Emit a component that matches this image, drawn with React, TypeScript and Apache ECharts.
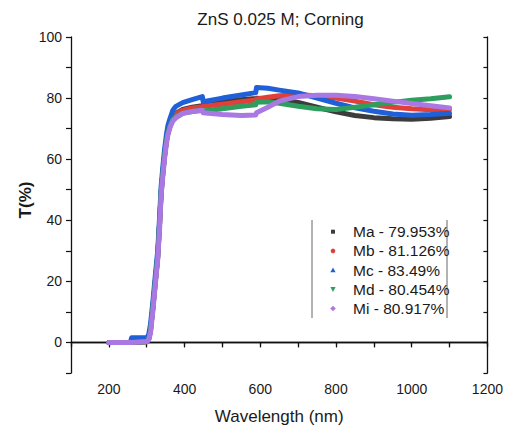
import React, { useEffect, useRef } from "react";
import * as echarts from "echarts";

const wavelengths = [200, 250, 257, 260, 300, 305, 310, 316, 322, 329, 334, 338, 343, 347, 352, 356, 362, 369, 377, 395, 420, 447, 449, 500, 550, 588, 590, 620, 650, 700, 750, 800, 850, 900, 950, 1000, 1050, 1100];

const maValues = [0, 0, 0, 0, 0.2, 1, 4, 11, 19, 28, 39, 49, 56, 61, 66, 68.6, 71.5, 73.5, 75, 76.3, 77, 77.5, 77.8, 78.8, 79.5, 79.9, 79.95, 79.8, 79.4, 78.6, 77, 75.5, 74.3, 73.6, 73.2, 73.1, 73.4, 74];
const mbValues = [0, 0, 0, 0, 0.2, 1, 4, 11, 19, 28, 39, 49, 56, 61, 66, 68.6, 71.5, 73.3, 74.8, 76, 76.8, 77.2, 77.3, 78, 78.8, 79.4, 79.7, 80.3, 80.8, 81.1, 80.8, 80, 79, 77.8, 77, 76.5, 76.2, 76.3];
const mcValues = [0, 0, 0, 1.5, 1.5, 2.5, 6, 13, 21, 30, 41, 51, 58, 63, 68, 71, 73.5, 76, 77.3, 78.5, 79.5, 80.5, 78.8, 80, 81, 81.8, 83.49, 83.2, 82.6, 81.7, 80, 78.3, 76.8, 75.7, 74.8, 74.4, 74.6, 75];
const mdValues = [0, 0, 0, 0, 0.2, 1, 4, 11, 19, 28, 39, 49, 56, 61, 66, 68.5, 71, 73, 74, 75, 75.6, 76, 75.8, 76.5, 77.3, 77.8, 78.6, 78.8, 78.3, 77.3, 76.5, 76.3, 77, 77.8, 78.6, 79.3, 79.8, 80.45];
const miValues = [0, 0, 0, 0, 0.3, 0.8, 3, 10, 18, 27, 37, 48, 55, 60, 65, 68, 70.5, 72.5, 73.5, 75, 75.6, 76, 75.2, 74.6, 74.3, 74.5, 75.2, 77, 79, 80.5, 80.9, 80.9, 80.5, 79.8, 79, 78.2, 77.5, 76.8];

const seriesNames = ["Ma - 79.953%", "Mb - 81.126%", "Mc - 83.49%", "Md - 80.454%", "Mi - 80.917%"];
const seriesColors = ["#3c3c3c", "#e0403a", "#1f5fd8", "#2e9e5e", "#aa78e2"];
const seriesValues = [maValues, mbValues, mcValues, mdValues, miValues];

const FONT = "'Liberation Sans', Arial, sans-serif";

export default function App() {
  const ref = useRef<HTMLDivElement>(null);
  useEffect(() => {
    if (!ref.current) return;
    const chart = echarts.init(ref.current, undefined, { renderer: "svg" });

    const series = seriesValues.map((vals, i) => ({
      name: seriesNames[i],
      type: "line",
      xAxisIndex: 0,
      yAxisIndex: 0,
      data: wavelengths.map((w, j) => [w, vals[j]]),
      showSymbol: false,
      symbol: "none",
      lineStyle: { color: seriesColors[i], width: 5, cap: "round", join: "round" },
      itemStyle: { color: seriesColors[i] },
      z: 2 + i,
    }));

    const legX = 333;
    const legTextX = 353;
    const rowY = [231.7, 250.9, 270.1, 289.3, 308.5];
    const legendGraphics: any[] = [
      { type: "line", shape: { x1: 312, y1: 220, x2: 312, y2: 318 }, style: { stroke: "#666", lineWidth: 1 } },
      { type: "line", shape: { x1: 447, y1: 220, x2: 447, y2: 318 }, style: { stroke: "#666", lineWidth: 1 } },
      { type: "rect", shape: { x: legX - 2, y: rowY[0] - 2, width: 4, height: 4 }, style: { fill: seriesColors[0] } },
      { type: "circle", shape: { cx: legX, cy: rowY[1], r: 2.3 }, style: { fill: seriesColors[1] } },
      { type: "polygon", shape: { points: [[legX, rowY[2] - 2.6], [legX - 2.6, rowY[2] + 2.2], [legX + 2.6, rowY[2] + 2.2]] }, style: { fill: seriesColors[2] } },
      { type: "polygon", shape: { points: [[legX, rowY[3] + 2.6], [legX - 2.6, rowY[3] - 2.2], [legX + 2.6, rowY[3] - 2.2]] }, style: { fill: seriesColors[3] } },
      { type: "polygon", shape: { points: [[legX, rowY[4] - 2.8], [legX + 2.8, rowY[4]], [legX, rowY[4] + 2.8], [legX - 2.8, rowY[4]]] }, style: { fill: seriesColors[4] } },
      ...seriesNames.map((n, i) => ({
        type: "text",
        x: legTextX,
        y: rowY[i],
        style: { text: n, font: `15.5px ${FONT}`, fill: "#1a1a1a", textAlign: "left", textVerticalAlign: "middle" },
      })),
      {
        type: "text",
        x: 280.5,
        y: 19.5,
        style: { text: "ZnS 0.025 M; Corning", font: `17px ${FONT}`, fill: "#1a1a1a", textAlign: "center", textVerticalAlign: "middle" },
      },
      {
        type: "text",
        x: 25,
        y: 200,
        rotation: Math.PI / 2,
        style: { text: "T(%)", font: `bold 17px ${FONT}`, fill: "#1a1a1a", textAlign: "center", textVerticalAlign: "middle" },
      },
    ];

    const axisLine = { show: true, lineStyle: { color: "#111", width: 1.3 } };
    const tickStyle = { color: "#111", width: 1.2 };

    chart.setOption({
      animation: false,
      backgroundColor: "#fff",
      grid: { left: 71, right: 16, top: 37, bottom: 55, containLabel: false },
      xAxis: [
        {
          type: "value",
          position: "bottom",
          min: 100,
          max: 1200,
          interval: 100,
          axisLine,
          axisTick: { show: true, inside: false, length: 5, lineStyle: tickStyle },
          axisLabel: {
            formatter: (v: number) => (v % 200 === 0 ? String(v) : ""),
            fontSize: 14,
            fontFamily: FONT,
            color: "#1a1a1a",
            margin: 9,
            showMinLabel: true,
            showMaxLabel: true,
          },
          splitLine: { show: false },
          name: "Wavelength (nm)",
          nameLocation: "middle",
          nameGap: 35,
          nameTextStyle: { fontSize: 17, fontFamily: FONT, color: "#1a1a1a" },
        },
        {
          type: "value",
          position: "top",
          min: 100,
          max: 1200,
          interval: 100,
          axisLine,
          axisTick: { show: true, inside: true, length: 4, lineStyle: tickStyle },
          axisLabel: { show: false },
          splitLine: { show: false },
        },
      ],
      yAxis: [
        {
          type: "value",
          position: "left",
          min: -10,
          max: 100,
          interval: 10,
          axisLine,
          axisTick: { show: true, inside: false, length: 5, lineStyle: tickStyle },
          axisLabel: {
            formatter: (v: number) => (v >= 0 && v % 20 === 0 ? String(v) : ""),
            fontSize: 14,
            fontFamily: FONT,
            color: "#1a1a1a",
            margin: 9,
          },
          splitLine: { show: false },
        },
        {
          type: "value",
          position: "right",
          min: -10,
          max: 100,
          interval: 10,
          axisLine,
          axisTick: { show: true, inside: true, length: 4, lineStyle: tickStyle },
          axisLabel: { show: false },
          splitLine: { show: false },
        },
      ],
      series,
      graphic: legendGraphics,
    });
    return () => chart.dispose();
  }, []);

  return <div ref={ref} style={{ position: "fixed", left: 0, top: 0, width: 506, height: 430 }} />;
}
